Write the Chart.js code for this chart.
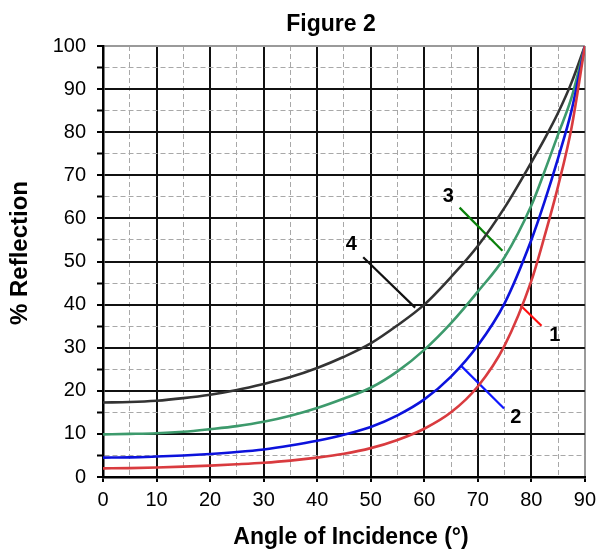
<!DOCTYPE html>
<html>
<head>
<meta charset="utf-8">
<title>Figure 2</title>
<script src="https://cdn.jsdelivr.net/npm/chart.js@4/dist/chart.umd.min.js"></script>
<style>
  html, body { margin: 0; padding: 0; background: #fff; }
</style>
</head>
<body>
<canvas id="fig" width="602" height="551"></canvas>
<script>
// angle of incidence (deg) and % reflection for each curve
const angles = [0, 5, 10, 15, 20, 25, 30, 35, 40, 45, 50, 55, 60, 65, 70, 75, 80, 82.5, 85, 87.5, 90];
const curve1 = [2.0, 2.05, 2.2, 2.4, 2.65, 2.95, 3.3, 3.8, 4.5, 5.4, 6.7, 8.6, 11.2, 15.0, 21.0, 30.5, 45.5, 56.0, 67.5, 81.0, 100];
const curve2 = [4.5, 4.55, 4.75, 5.0, 5.35, 5.8, 6.4, 7.3, 8.4, 9.8, 11.6, 14.3, 18.0, 23.3, 30.5, 40.3, 55.0, 64.0, 74.0, 85.0, 100];
const curve3 = [9.9, 10.0, 10.15, 10.5, 11.1, 11.8, 12.8, 14.2, 16.0, 18.2, 20.7, 24.5, 29.5, 35.7, 43.0, 51.0, 63.0, 71.0, 79.5, 88.0, 100];
const curve4 = [17.3, 17.4, 17.7, 18.3, 19.1, 20.2, 21.6, 23.2, 25.3, 27.9, 31.0, 35.2, 40.0, 46.4, 53.6, 62.5, 73.0, 78.5, 84.5, 91.5, 100];

// tick labels
const xTicks = [0, 10, 20, 30, 40, 50, 60, 70, 80, 90];
const yTicks = [0, 10, 20, 30, 40, 50, 60, 70, 80, 90, 100];

// numbered callouts: leader line start/end and label spot, in data units
const calloutText = ["1", "2", "3", "4"];
const calloutFrom = [[78.0, 39.8], [66.8, 25.9], [66.6, 62.5], [48.6, 51.0]];
const calloutTo = [[81.9, 35.1], [74.9, 15.9], [74.6, 52.5], [58.3, 39.3]];
const calloutLabel = [[84.4, 32.9], [77.1, 13.9], [64.5, 65.2], [46.4, 54.0]];

const curveColors = ["#d93b3f", "#0c12dc", "#3d9a6c", "#333333"];
const calloutColors = ["#ff1010", "#1018ff", "#0a800a", "#111111"];
const FONT = "'Liberation Sans', Arial, Helvetica, sans-serif";

const pts = vals => angles.map((a, i) => ({ x: a, y: vals[i] }));

const datasets = [curve1, curve2, curve3, curve4].map((c, i) => ({
    data: pts(c),
    borderColor: curveColors[i],
    borderWidth: 2.6,
    pointRadius: 0,
    cubicInterpolationMode: "monotone",
    fill: false
}));

calloutFrom.forEach((p, i) => {
    datasets.push({
        data: [{ x: p[0], y: p[1] }, { x: calloutTo[i][0], y: calloutTo[i][1] }],
        borderColor: calloutColors[i],
        borderWidth: 2.2,
        pointRadius: 0,
        tension: 0,
        fill: false
    });
});

// grid style: solid black every 10, dashed grey every 5, grey frame at the far edge
const gridColor = (edge) => ctx => {
    if (!ctx.tick) return "#000";
    const v = ctx.tick.value;
    if (v === edge) return "#9a9a9a";
    return v % 10 === 0 ? "#111" : "#a8a8a8";
};
const gridWidth = ctx => (ctx.tick && ctx.tick.value % 10 !== 0) ? 1 : 2;
const gridDash = ctx => (ctx.tick && ctx.tick.value % 10 !== 0) ? [5, 3] : [];

const labelsPlugin = {
    id: "labels",
    afterDatasetsDraw(chart) {
        const { ctx, scales: { x, y } } = chart;
        ctx.save();
        ctx.fillStyle = "#000";
        ctx.textAlign = "center";
        ctx.textBaseline = "middle";
        ctx.font = "bold 20px " + FONT;
        calloutText.forEach((t, i) => {
            ctx.fillText(t, x.getPixelForValue(calloutLabel[i][0]), y.getPixelForValue(calloutLabel[i][1]));
        });
        // titles
        ctx.font = "bold 23px " + FONT;
        ctx.fillText("Figure 2", 331, 25);
        ctx.font = "bold 23px " + FONT;
        ctx.fillText("Angle of Incidence (°)", 351, 538);
        ctx.save();
        ctx.translate(20, 253);
        ctx.rotate(-Math.PI / 2);
        ctx.font = "bold 24px " + FONT;
        ctx.fillText("% Reflection", 0, 0);
        ctx.restore();
        ctx.restore();
    }
};

new Chart(document.getElementById("fig"), {
    type: "line",
    data: { datasets },
    options: {
        responsive: false,
        animation: false,
        layout: { padding: { top: 46, right: 14, left: 0, bottom: 0 } },
        plugins: { legend: { display: false }, tooltip: { enabled: false } },
        scales: {
            x: {
                type: "linear",
                min: 0,
                max: 90,
                afterFit: s => { s.height = 74; },
                ticks: {
                    stepSize: 5,
                    autoSkip: false,
                    maxRotation: 0,
                    padding: 6,
                    color: "#000",
                    font: { family: FONT, size: 20 },
                    callback: v => xTicks.includes(v) ? String(v) : ""
                },
                grid: {
                    color: gridColor(90),
                    lineWidth: gridWidth,
                    tickLength: 5,
                    tickColor: ctx => (ctx.tick && ctx.tick.value % 10 === 0) ? "#000" : "rgba(0,0,0,0)",
                    tickWidth: 2,
                    tickBorderDash: []
                },
                border: { display: true, color: "#000", width: 2.5, dash: gridDash }
            },
            y: {
                min: 0,
                max: 100,
                afterFit: s => { s.width = 103; },
                ticks: {
                    stepSize: 5,
                    autoSkip: false,
                    padding: 11,
                    color: "#000",
                    font: { family: FONT, size: 20 },
                    callback: v => yTicks.includes(v) ? String(v) : ""
                },
                grid: {
                    color: gridColor(100),
                    lineWidth: gridWidth,
                    tickLength: 6,
                    tickColor: "#000",
                    tickWidth: 2,
                    tickBorderDash: []
                },
                border: { display: true, color: "#000", width: 2.5, dash: gridDash }
            }
        }
    },
    plugins: [labelsPlugin]
});
</script>
</body>
</html>
